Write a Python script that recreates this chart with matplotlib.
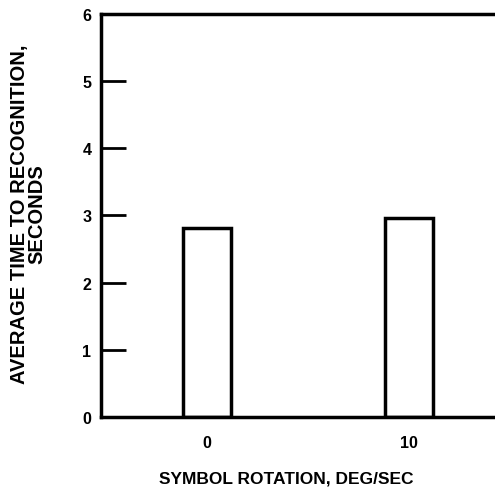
import numpy as np
import matplotlib.pyplot as plt

plt.rcParams['font.family'] = ['Liberation Sans', 'DejaVu Sans']
plt.rcParams['font.weight'] = 'bold'

# bar data
rotation = [0, 10]
avg_time = [2.81, 2.96]
yticks = [0, 1, 2, 3, 4, 5, 6]

fig = plt.figure(figsize=(4.95, 4.89), dpi=100)
ax = fig.add_axes([0.204, 0.145, 0.81, 0.825])

ax.bar(rotation, avg_time, width=2.35, facecolor='white', edgecolor='black', linewidth=2.5)

ax.set_xlim(-5.25, 14.6)
ax.set_ylim(0, 6)
ax.set_yticks(yticks)
ax.set_xticks(rotation)
ax.tick_params(axis='y', direction='in', length=18, width=2, pad=7, labelsize=11.5)
ax.tick_params(axis='x', length=0, pad=13, labelsize=11.5)

for s in ['left', 'top', 'bottom']:
    ax.spines[s].set_linewidth(2.5)
ax.spines['right'].set_visible(False)

ax.set_xlabel('SYMBOL ROTATION, DEG/SEC', fontsize=12.5, fontweight='bold')
ax.xaxis.set_label_coords(0.462, -0.133)
ax.set_ylabel('AVERAGE TIME TO RECOGNITION,\nSECONDS', fontsize=14.5, fontweight='bold', linespacing=0.92)
ax.yaxis.set_label_coords(-0.135, 0.505)

plt.savefig('out.png', dpi=100)
